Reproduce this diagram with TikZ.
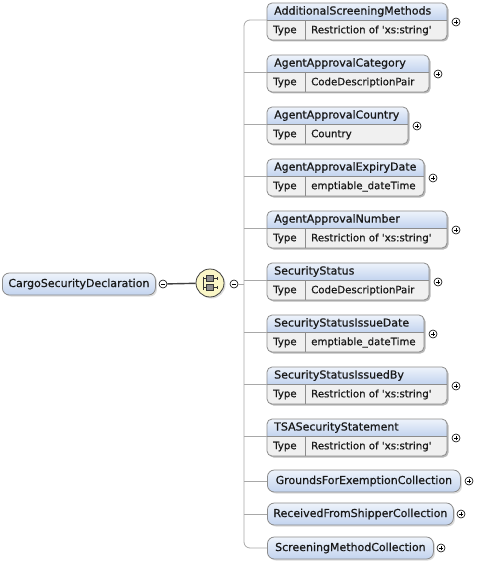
\documentclass[tikz,border=0pt]{standalone}
\usepackage{fontspec}
\setmainfont{DejaVu Sans}[FakeBold=0.6]
\usepackage{tikz}
\usetikzlibrary{shadows}

\definecolor{hdtop}{HTML}{EEF3FB}
\definecolor{hdbot}{HTML}{C3D4EF}
\definecolor{typebg}{HTML}{F0F0F0}
\definecolor{edgec}{HTML}{8C8C8C}
\definecolor{treec}{HTML}{A8A8A8}
\definecolor{seqbg}{HTML}{FAF6C6}

% element with a type row: id, top, right edge, name, type
\newcommand\xelem[5]{%
  \fill[black!28, rounded corners=5pt] (268.5,#2+1.5) rectangle (#3+1.5,#2+38.5);
  \begin{scope}
    \clip[rounded corners=5pt] (267,#2) rectangle (#3,#2+37);
    \shade[top color=hdtop, bottom color=hdbot] (267,#2) rectangle (#3,#2+17);
    \fill[typebg] (267,#2+17) rectangle (#3,#2+37);
  \end{scope}
  \draw[edgec, line width=0.6pt] (267,#2+17) -- (#3,#2+17) (305,#2+17) -- (305,#2+37);
  \draw[edgec, line width=0.8pt, rounded corners=5pt] (267,#2) rectangle (#3,#2+37);
  \node[txt] (#1) at (274,#2+8.5) {#4};
  \node[txt, typefont] (#1-k) at (273,#2+27.5) {Type};
  \node[txt, typefont] (#1-t) at (311,#2+27.5) {#5};
  \coordinate (#1-in) at (267,#2+17);
  \node[expander] (#1-p) at (#3+9,#2+19) {};
}

\begin{document}
\begin{tikzpicture}[
  x=1pt, y=-1pt,
  font=\fontsize{11}{13}\selectfont,
  txt/.style={anchor=west, inner sep=0pt, text=black!90},
  typefont/.style={font=\fontsize{10.2}{12}\selectfont},
  coll/.style={draw=edgec, line width=0.8pt, rounded corners=7pt, anchor=west, minimum height=22pt, inner sep=0pt,
    top color=hdtop, bottom color=hdbot, text=black!90,
    drop shadow={shadow xshift=1.5pt, shadow yshift=-1.5pt, fill=black!28}},
  expander/.style={circle, draw, fill=white, line width=0.6pt, minimum size=8pt, inner sep=0pt,
    path picture={\draw[line width=0.7pt] ([xshift=-2.2pt]path picture bounding box.center) -- ([xshift=2.2pt]path picture bounding box.center)
      ([yshift=-2.2pt]path picture bounding box.center) -- ([yshift=2.2pt]path picture bounding box.center);}},
  collapser/.style={circle, draw, fill=white, line width=0.6pt, minimum size=8pt, inner sep=0pt,
    path picture={\draw[line width=0.7pt] ([xshift=-2.2pt]path picture bounding box.center) -- ([xshift=2.2pt]path picture bounding box.center);}},
  seq/.style={circle, draw=black!75, line width=0.8pt, fill=seqbg, minimum size=28pt, inner sep=0pt,
    drop shadow={shadow xshift=1.5pt, shadow yshift=-1.5pt, fill=black!28}},
  tree/.style={treec, line width=0.8pt}
]
\useasboundingbox (0,0) rectangle (492,564);

% root and sequence
\node[coll, minimum width=153pt] (root) at (2,284) {CargoSecurityDeclaration};
\node[collapser] (rootm) at (163,284) {};
\node[seq] (seq) at (210,283) {};
\node[collapser] (seqm) at (234,284) {};
\draw[black!75, line width=1.4pt] (rootm) -- (seq);
\fill[black!45] ([shift={(-3.5,-7.5)}]seq.center) rectangle ([shift={(3.5,-1.5)}]seq.center);
\fill[black!45] ([shift={(-3.5,1.5)}]seq.center) rectangle ([shift={(3.5,7.5)}]seq.center);
\draw[black!80, line width=0.6pt]
  ([shift={(-3.5,-7.5)}]seq.center) rectangle ([shift={(3.5,-1.5)}]seq.center)
  ([shift={(-3.5,1.5)}]seq.center) rectangle ([shift={(3.5,7.5)}]seq.center)
  ([shift={(-7,-4.5)}]seq.center) -- ([shift={(-3.5,-4.5)}]seq.center)
  ([shift={(-7,4.5)}]seq.center) -- ([shift={(-3.5,4.5)}]seq.center)
  ([shift={(-7,-6.5)}]seq.center) -- ([shift={(-7,6.5)}]seq.center)
  ([shift={(3.5,-4.5)}]seq.center) -- ([shift={(7,-4.5)}]seq.center)
  ([shift={(3.5,4.5)}]seq.center) -- ([shift={(7,4.5)}]seq.center)
  ([shift={(7,-6)}]seq.center) -- ([shift={(7,-3)}]seq.center)
  ([shift={(7,3)}]seq.center) -- ([shift={(7,6)}]seq.center);

% children
\xelem{asm}{3}{447}{AdditionalScreeningMethods}{Restriction of \textquotesingle xs:string\textquotesingle}
\xelem{aac}{55}{429}{AgentApprovalCategory}{CodeDescriptionPair}
\xelem{aacy}{107}{408}{AgentApprovalCountry}{Country}
\xelem{aaed}{159}{424}{AgentApprovalExpiryDate}{emptiable\_dateTime}
\xelem{aan}{211}{447}{AgentApprovalNumber}{Restriction of \textquotesingle xs:string\textquotesingle}
\xelem{ss}{263}{429}{SecurityStatus}{CodeDescriptionPair}
\xelem{ssid}{315}{424}{SecurityStatusIssueDate}{emptiable\_dateTime}
\xelem{ssib}{367}{447}{SecurityStatusIssuedBy}{Restriction of \textquotesingle xs:string\textquotesingle}
\xelem{tsa}{419}{447}{TSASecurityStatement}{Restriction of \textquotesingle xs:string\textquotesingle}

\node[coll, minimum width=193pt] (gfe) at (267,481) {GroundsForExemptionCollection};
\node[expander] (gfe-p) at (469,481) {};
\node[coll, minimum width=186pt] (rfs) at (267,514) {ReceivedFromShipperCollection};
\node[expander] (rfs-p) at (461,514) {};
\node[coll, minimum width=166pt] (smc) at (267,548) {ScreeningMethodCollection};
\node[expander] (smc-p) at (441,548) {};

% tree
\coordinate (fork) at (244,284);
\coordinate (ttop) at (244,20);
\coordinate (tbot) at (244,548);
\draw[tree] (seqm) -- (fork);
\draw[tree, rounded corners=6pt] (asm-in) -- (ttop) -- (tbot) -- (smc.west);
\draw[tree] (fork |- aac-in) -- (aac-in);
\draw[tree] (fork |- aacy-in) -- (aacy-in);
\draw[tree] (fork |- aaed-in) -- (aaed-in);
\draw[tree] (fork |- aan-in) -- (aan-in);
\draw[tree] (fork |- ss-in) -- (ss-in);
\draw[tree] (fork |- ssid-in) -- (ssid-in);
\draw[tree] (fork |- ssib-in) -- (ssib-in);
\draw[tree] (fork |- tsa-in) -- (tsa-in);
\draw[tree] (fork |- gfe.west) -- (gfe.west);
\draw[tree] (fork |- rfs.west) -- (rfs.west);
\end{tikzpicture}
\end{document}
